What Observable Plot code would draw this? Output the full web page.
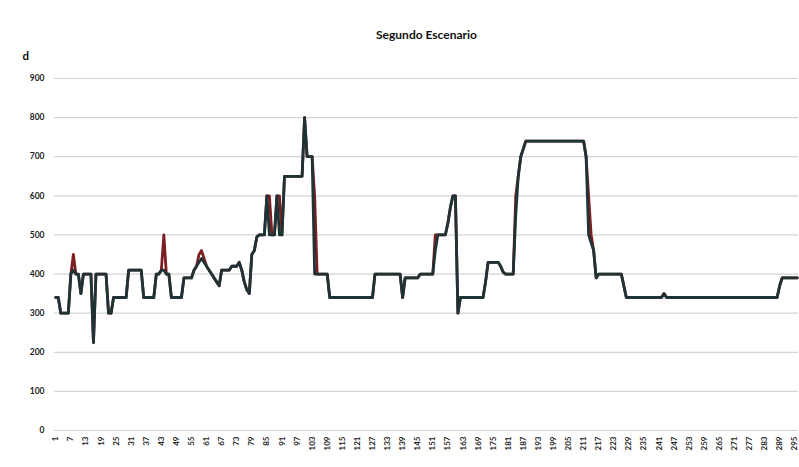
<!DOCTYPE html>
<html>
<head>
<meta charset="utf-8">
<script src="https://cdn.jsdelivr.net/npm/d3@7"></script>
<script src="https://cdn.jsdelivr.net/npm/@observablehq/plot@0.6"></script>
<style>
  body { margin: 0; background: #fff; }
  #chart svg { display: block; }
</style>
</head>
<body>
<div id="chart"></div>
<script>
// Two step-like series over 296 periods, stored run-length encoded:
// each level holds for the number of periods given in the matching runs entry.
const darkLevels = [340,300,400,410,400,350,400,225,400,300,340,410,340,400,410,400,340,390,410,420,430,440,430,420,410,400,390,380,370,410,420,430,410,380,360,350,450,460,495,500,600,500,600,500,650,800,700,400,340,400,340,390,400,460,500,530,570,600,300,340,380,430,420,405,400,550,650,700,720,740,700,500,480,460,390,400,370,340,350,340,370,390];
const darkRuns   = [2,4,1,1,2,1,4,1,5,2,6,6,5,2,2,2,5,4,1,1,1,1,1,1,1,1,1,1,1,4,3,1,1,1,1,1,1,1,1,3,1,3,1,2,8,1,3,6,18,11,1,6,6,1,4,1,1,2,1,10,1,5,1,1,4,1,1,1,1,24,1,1,1,1,1,10,1,15,1,45,1,7];

const redLevels = [340,300,400,450,400,350,400,225,400,300,340,410,340,400,410,500,400,340,390,410,420,450,460,440,420,410,400,390,380,370,410,420,430,410,380,360,350,450,460,495,500,600,500,600,500,650,800,700,600,400,340,400,340,390,400,500,530,570,600,300,340,380,430,420,405,400,600,650,700,720,740,700,600,500,460,390,400,370,340,350,340,370,390];
const redRuns   = [2,4,1,1,2,1,4,1,5,2,6,6,5,2,1,1,2,5,4,1,1,1,1,1,1,1,1,1,1,1,4,3,1,1,1,1,1,1,1,1,3,2,2,2,1,8,1,3,1,5,18,11,1,6,6,5,1,1,2,1,10,1,5,1,1,4,1,1,1,1,24,1,1,1,1,1,10,1,15,1,45,1,7];

const periodCount = 296;
const xTickLabels = d3.range(1, periodCount + 1, 6);   // 1, 7, 13, ... 295
const yTickLabels = d3.range(0, 1000, 100);            // 0 … 900

const titleText = "Segundo Escenario";
const yAxisLabel = "d";

function expand(levels, runs) {
  return levels.flatMap((v, k) => Array(runs[k]).fill(v));
}

const darkValues = expand(darkLevels, darkRuns);
const redValues = expand(redLevels, redRuns);

const rows = (values) => values.map((d, i) => ({period: i + 1, d}));
const darkRows = rows(darkValues);
const redRows = rows(redValues);

const font = "Lato, 'Open Sans', sans-serif";

const chart = Plot.plot({
  width: 799,
  height: 467,
  marginLeft: 54,
  marginRight: 1,
  marginTop: 78,
  marginBottom: 37,
  style: {fontFamily: font, background: "#fff", overflow: "visible"},
  x: {domain: [0.5, periodCount + 0.5]},
  y: {domain: [0, 900]},
  marks: [
    Plot.ruleY(yTickLabels, {stroke: "#d4d4d4", strokeWidth: 1.2}),
    Plot.axisY({
      ticks: yTickLabels,
      tickSize: 0,
      tickPadding: 10,
      fontSize: 8.5,
      fontWeight: "bold",
      fill: "#222",
      label: null
    }),
    Plot.axisX({
      ticks: xTickLabels,
      tickFormat: d => String(d),
      tickSize: 0,
      tickPadding: 6,
      tickRotate: -90,
      fontSize: 8,
      fontWeight: "bold",
      fill: "#222",
      label: null
    }),
    Plot.line(redRows, {x: "period", y: "d", stroke: "#7d1f22", strokeWidth: 2.8, strokeLinejoin: "round"}),
    Plot.line(darkRows, {x: "period", y: "d", stroke: "#1d3336", strokeWidth: 2.8, strokeLinejoin: "round"}),
    Plot.text([titleText], {
      frameAnchor: "top", dy: -48, fontSize: 12, fontWeight: "bold", fill: "#111"
    }),
    Plot.text([yAxisLabel], {
      frameAnchor: "top-left", dx: -32, dy: -27, fontSize: 11.5, fontWeight: "bold", fill: "#111"
    })
  ]
});

document.getElementById("chart").appendChild(chart);
</script>
</body>
</html>
